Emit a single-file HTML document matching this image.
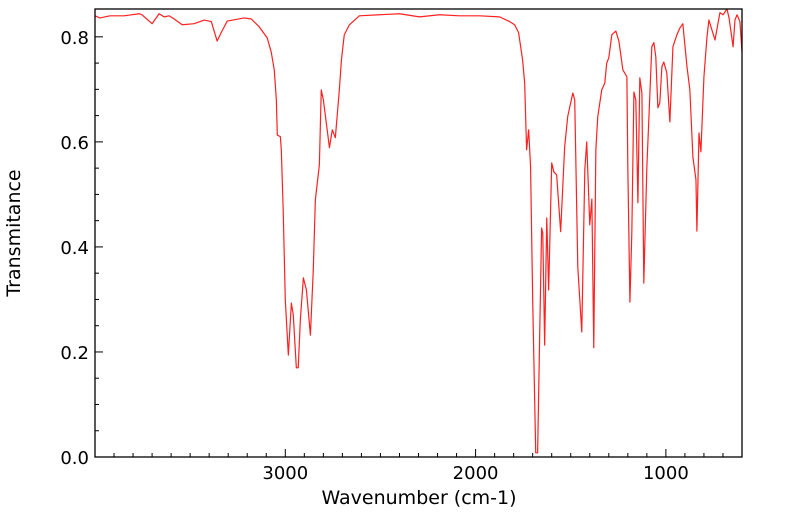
<!DOCTYPE html>
<html><head><meta charset="utf-8"><style>
html,body{margin:0;padding:0;background:#fff;}
svg text{font-family:"DejaVu Sans","Liberation Sans",sans-serif;fill:#000;}
</style></head><body>
<svg id="chart" width="799" height="516" xmlns="http://www.w3.org/2000/svg">
<g id="ticks"></g>
<path id="spectrum" fill="none" stroke="#ff2020" stroke-width="1.2" stroke-linejoin="round"></path>
<rect x="95" y="9" width="647" height="448" fill="none" stroke="#000" stroke-width="1.3"/>
<text x="419" y="504" font-size="19" text-anchor="middle">Wavenumber (cm-1)</text>
<text x="0" y="0" font-size="19" text-anchor="middle" transform="translate(20,233) rotate(-90)">Transmitance</text>
</svg>
<script>
const wavenumbers=[4000,3974,3921,3847,3768,3753,3700,3663,3637,3610,3584,3542,3479,3426,3389,3358,3337,3305,3216,3179,3137,3095,3074,3058,3047,3042,3026,3021,3011,3000,2984,2968,2958,2942,2932,2921,2905,2889,2868,2853,2842,2821,2811,2800,2768,2753,2737,2716,2705,2690,2663,2611,2505,2400,2295,2190,2084,1979,1874,1821,1795,1774,1753,1742,1732,1721,1711,1700,1684,1674,1663,1653,1647,1637,1626,1616,1600,1589,1574,1553,1532,1516,1489,1479,1463,1442,1426,1416,1400,1389,1379,1368,1358,1337,1321,1311,1300,1284,1263,1247,1226,1205,1200,1189,1179,1168,1158,1147,1137,1126,1116,1100,1089,1074,1063,1053,1042,1032,1021,1011,995,979,963,942,926,911,889,874,858,842,837,826,816,800,784,774,742,716,700,679,668,647,637,626,611,600];
const transmittance=[0.840,0.836,0.840,0.840,0.844,0.842,0.825,0.844,0.838,0.840,0.834,0.823,0.825,0.832,0.829,0.792,0.808,0.830,0.836,0.834,0.819,0.798,0.771,0.737,0.680,0.613,0.610,0.585,0.470,0.299,0.194,0.293,0.270,0.170,0.170,0.261,0.341,0.318,0.232,0.356,0.490,0.556,0.699,0.680,0.589,0.623,0.608,0.699,0.756,0.804,0.823,0.840,0.842,0.844,0.838,0.842,0.840,0.840,0.838,0.829,0.823,0.808,0.756,0.712,0.585,0.623,0.552,0.299,0.008,0.008,0.236,0.436,0.427,0.213,0.455,0.318,0.560,0.543,0.537,0.429,0.590,0.648,0.693,0.680,0.362,0.238,0.547,0.600,0.442,0.491,0.208,0.585,0.648,0.699,0.712,0.750,0.760,0.804,0.811,0.792,0.737,0.724,0.552,0.295,0.427,0.695,0.680,0.484,0.722,0.693,0.331,0.552,0.648,0.781,0.789,0.762,0.665,0.674,0.743,0.752,0.731,0.638,0.781,0.804,0.817,0.825,0.743,0.699,0.571,0.528,0.430,0.617,0.581,0.724,0.800,0.832,0.794,0.846,0.842,0.853,0.836,0.781,0.832,0.842,0.829,0.771];
const xTickLabels=[3000,2000,1000];
const yTickLabels=[0.0,0.2,0.4,0.6,0.8];
const X0=95,X1=742,Y0=457,Y1=9,WMAX=4000,WMIN=600,TMIN=0,TMAX=0.853;
function xs(w){return X0+(WMAX-w)/(WMAX-WMIN)*(X1-X0);}
function ys(t){return Y0-(t-TMIN)/(TMAX-TMIN)*(Y0-Y1);}
const NS="http://www.w3.org/2000/svg";
const g=document.getElementById('ticks');
function line(x1,y1,x2,y2,name){const l=document.createElementNS(NS,'line');l.setAttribute('x1',x1);l.setAttribute('y1',y1);l.setAttribute('x2',x2);l.setAttribute('y2',y2);l.setAttribute('stroke','#000');l.setAttribute('stroke-width','1');


g.appendChild(l);}
for(let w=700;w<=3900;w+=100){const x=xs(w);const major=w%1000===0;line(x,Y0,x,Y0-(major?8:4),major?'x-major-tick':'x-minor-tick');}
for(let i=0;i<=16;i++){const t=i*0.05;const y=ys(t);const major=i%4===0;line(X0,y,X0+(major?8:4),y,major?'y-major-tick':'y-minor-tick');}
xTickLabels.forEach(v=>{const t=document.createElementNS(NS,'text');t.setAttribute('x',xs(v));t.setAttribute('y',Y0+22);t.setAttribute('font-size','18');t.setAttribute('text-anchor','middle');t.textContent=v;


g.appendChild(t);});
yTickLabels.forEach(v=>{const t=document.createElementNS(NS,'text');t.setAttribute('x',X0-6);t.setAttribute('y',ys(v)+7);t.setAttribute('font-size','18');t.setAttribute('text-anchor','end');t.textContent=v.toFixed(1);


g.appendChild(t);});
let d='';wavenumbers.forEach((w,i)=>{d+=(i?'L':'M')+xs(w).toFixed(2)+' '+ys(transmittance[i]).toFixed(2);});
document.getElementById('spectrum').setAttribute('d',d);
</script>
</body></html>
